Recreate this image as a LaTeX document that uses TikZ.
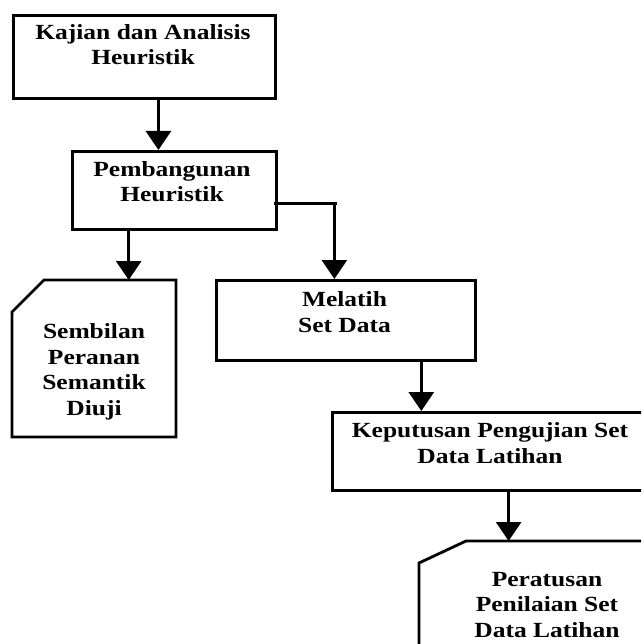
\documentclass[tikz,border=0pt]{standalone}
\usepackage{fontspec}
\newfontfamily\lblfont[FakeStretch=1.18]{Liberation Serif}
\usetikzlibrary{arrows.meta,calc}
\tikzset{
  boxnode/.style={draw=black, line width=2.8pt, rectangle, inner sep=0pt, anchor=north west, fill=white},
  cardline/.style={draw=black, line width=2.8pt, line join=miter},
  lbl/.style={font=\lblfont\bfseries\fontsize{21.6}{25.5}\selectfont, align=center, anchor=base, inner sep=0pt, text=black},
  arr/.style={draw=black, line width=2.8pt, -{Triangle[width=25pt,length=19pt]}},
  plainline/.style={draw=black, line width=2.8pt}
}
\begin{document}
\begin{tikzpicture}[x=1pt,y=-1pt]
\useasboundingbox (0,0) rectangle (641,644);
\clip (0,0) rectangle (641,644);
\fill[white] (0,0) rectangle (641,644);
% boxes
\node[boxnode, minimum width=262pt, minimum height=83pt] (box1) at (12,14) {};
\node[boxnode, minimum width=204pt, minimum height=78pt] (box2) at (71,150) {};
\node[boxnode, minimum width=259pt, minimum height=80pt] (mel) at (215,279) {};
\node[boxnode, minimum width=319pt, minimum height=78pt] (box4) at (331,411) {};
% cards
\draw[cardline] (44,280) -- (176,280) -- (176,437) -- (12,437) -- (12,312) -- cycle;
\coordinate (card1top) at (94,280);
\draw[cardline] (466,541) -- (660,541) -- (660,660) -- (419,660) -- (419,563) -- cycle;
\coordinate (card2top) at (540,541);
% texts (anchor = baseline of last line)
\node[lbl] (t1) at (143,65) {Kajian dan Analisis\\Heuristik};
\node[lbl] (t2) at (172,202) {Pembangunan\\Heuristik};
\node[lbl] (t3) at (94,415) {Sembilan\\Peranan\\Semantik\\Diuji};
\node[lbl] (t4) at (344.5,332) {Melatih\\Set Data};
\node[lbl] (t5) at (490,463) {Keputusan Pengujian Set\\Data Latihan};
\node[lbl] (t6) at (547,637) {Peratusan\\Penilaian Set\\Data Latihan};
% connectors
\coordinate (a1s) at ($(box1.south west)!0.553!(box1.south east)$);
\draw[arr] (a1s) -- (a1s |- box2.north);
\coordinate (a2s) at ($(box2.south west)!0.279!(box2.south east)$);
\draw[arr] (a2s) -- (a2s |- card1top);
\coordinate (a3s) at ($(box2.south east)!0.333!(box2.north east)$);
\coordinate (a3e) at ($(mel.north west)!0.456!(mel.north east)$);
\draw[plainline] ($(a3s)+(-4,0)$) -- ($(a3e |- a3s)+(3,0)$);
\draw[arr] (a3e |- a3s) -- (a3e);
\coordinate (a4s) at ($(mel.south west)!0.788!(mel.south east)$);
\draw[arr] (a4s) -- (a4s |- box4.north);
\coordinate (a5s) at ($(box4.south west)!0.552!(box4.south east)$);
\draw[arr] (a5s) -- (a5s |- card2top);
\end{tikzpicture}
\end{document}
